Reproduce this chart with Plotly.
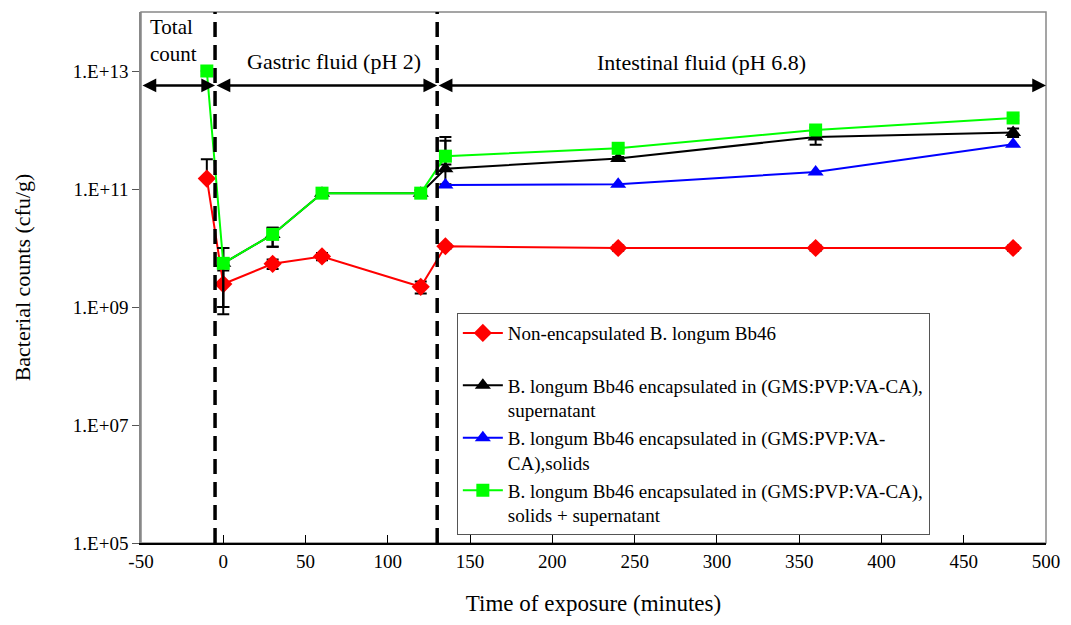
import plotly.graph_objects as go

# Sampling times (minutes) for each series
time_red = [-10, 0, 30, 60, 120, 135, 240, 360, 480]
time_black = [0, 30, 60, 120, 135, 240, 360, 480]
time_blue = [135, 240, 360, 480]
time_green = [-10, 0, 30, 60, 120, 135, 240, 360, 480]

# Bacterial counts (cfu/g)
red = [1.5e11, 2.45e9, 5.4e9, 7.2e9, 2.2e9, 1.07e10, 1.0e10, 1.0e10, 1.0e10]
black = [5.5e9, 1.7e10, 8.5e10, 8.5e10, 2.2e11, 3.3e11, 7.6e11, 9.1e11]
blue = [1.17e11, 1.2e11, 1.95e11, 5.75e11]
green = [1.0e13, 5.5e9, 1.7e10, 8.5e10, 8.5e10, 3.6e11, 4.9e11, 1.0e12, 1.6e12]

# Error bars (upper / lower)
red_err_up = [1.7e11, 1.7e9, 1.0e9, 1.0e9, 5e8, 1e9, 1e9, 1e9, 1e9]
red_err_dn = [0, 1.7e9, 1.0e9, 1.0e9, 5e8, 1e9, 1e9, 1e9, 1e9]
black_err_up = [4.5e9, 5e9, 1e10, 1e10, 4.4e11, 2e10, 2e11, 1.5e11]
black_err_dn = [4.5e9, 6.5e9, 1e10, 1e10, 1e11, 2e10, 2e11, 1.5e11]
green_err_up = [0, 4.5e9, 5e9, 1e10, 1e10, 4e11, 3e10, 1e11, 1.5e11]
green_err_dn = [0, 4.5e9, 6.5e9, 1e10, 1e10, 1e11, 3e10, 1e11, 1.5e11]

# Axis ticks
x_ticks = [-50, 0, 50, 100, 150, 200, 250, 300, 350, 400, 450, 500]
x_ticktext = ["-50", "0", "50", "100", "150", "200", "250", "300", "350",
              "400", "450", "500"]
y_tickvals = [1e5, 1e7, 1e9, 1e11, 1e13]
y_ticktext = ["1.E+05", "1.E+07", "1.E+09", "1.E+11", "1.E+13"]

# Phase boundaries (minutes) and the log10 level of the phase arrows
phase_bounds = [-50, -5, 130, 500]
arrow_log_level = 12.756

FONT = "Liberation Serif"


def err(up, dn):
    return dict(type="data", symmetric=False, array=up, arrayminus=dn,
                color="black", thickness=2, width=6)


fig = go.Figure()

fig.add_trace(go.Scatter(
    x=time_red, y=red, mode="lines+markers",
    name="Non-encapsulated B. longum Bb46<br> ",
    line=dict(color="#ff0000", width=2),
    marker=dict(symbol="diamond", size=14, color="#ff0000"),
    error_y=err(red_err_up, red_err_dn)))

fig.add_trace(go.Scatter(
    x=time_black, y=black, mode="lines+markers",
    name="B. longum Bb46 encapsulated in (GMS:PVP:VA-CA),<br>supernatant",
    line=dict(color="black", width=2),
    marker=dict(symbol="triangle-up", size=14, color="black"),
    error_y=err(black_err_up, black_err_dn)))

fig.add_trace(go.Scatter(
    x=time_blue, y=blue, mode="lines+markers",
    name="B. longum Bb46 encapsulated in (GMS:PVP:VA-<br>CA),solids",
    line=dict(color="#0000ff", width=2),
    marker=dict(symbol="triangle-up", size=14, color="#0000ff")))

fig.add_trace(go.Scatter(
    x=time_green, y=green, mode="lines+markers",
    name="B. longum Bb46 encapsulated in (GMS:PVP:VA-CA),<br>solids + supernatant",
    line=dict(color="#00ff00", width=2),
    marker=dict(symbol="square", size=13, color="#00ff00"),
    error_y=err(green_err_up, green_err_dn)))

shapes = []
# dashed phase separators
for xb in phase_bounds[1:3]:
    shapes.append(dict(type="line", xref="x", yref="paper", x0=xb, x1=xb,
                       y0=0, y1=1, line=dict(color="black", width=3.5,
                                             dash="15px,8px"), layer="above"))
# plot frame
shapes.append(dict(type="rect", xref="paper", yref="paper", x0=0, x1=1,
                   y0=0, y1=1, line=dict(color="#888888", width=1.5),
                   layer="below"))

annotations = []
# double-headed arrows spanning each phase
for a, b in zip(phase_bounds[:-1], phase_bounds[1:]):
    annotations.append(dict(
        x=b, y=arrow_log_level, ax=a, ay=arrow_log_level,
        xref="x", yref="y", axref="x", ayref="y", text="",
        showarrow=True, arrowhead=2, arrowside="end+start",
        arrowsize=1.1, arrowwidth=2.5, arrowcolor="black", standoff=0,
        startstandoff=0))

annotations += [
    dict(x=-30.5, y=0.998, xref="x", yref="paper", text="Total<br>count",
         showarrow=False, align="left",
         font=dict(family=FONT, size=21, color="black")),
    dict(x=67, y=0.934, xref="x", yref="paper", text="Gastric fluid (pH 2)",
         showarrow=False, font=dict(family=FONT, size=22, color="black")),
    dict(x=290.5, y=0.933, xref="x", yref="paper",
         text="Intestinal fluid (pH 6.8)",
         showarrow=False, font=dict(family=FONT, size=22, color="black")),
]

fig.update_layout(
    width=1071, height=625,
    margin=dict(l=141, r=25, t=12, b=82),
    paper_bgcolor="white", plot_bgcolor="white",
    font=dict(family=FONT, size=19, color="black"),
    shapes=shapes, annotations=annotations,
    showlegend=True,
    legend=dict(x=0.349, y=0.433, xanchor="left", yanchor="top",
                bgcolor="white", bordercolor="#555555", borderwidth=1,
                font=dict(family=FONT, size=19, color="black"),
                valign="top", tracegroupgap=0, itemwidth=40),
)

fig.update_xaxes(
    range=[-50, 500], tickvals=x_ticks, ticktext=x_ticktext,
    ticks="inside", ticklen=8,
    tickcolor="black", showline=True, linecolor="black", linewidth=1.5,
    showgrid=False, zeroline=False,
    title=dict(text="Time of exposure (minutes)", standoff=24,
               font=dict(family=FONT, size=23)),
    tickfont=dict(family=FONT, size=19))

fig.update_yaxes(
    type="log", range=[5, 14], tickvals=y_tickvals, ticktext=y_ticktext,
    ticks="outside", ticklen=7, tickcolor="#555555", showline=True,
    linecolor="#888888", linewidth=1.5, showgrid=False, zeroline=False,
    title=dict(text="Bacterial counts (cfu/g)", standoff=36,
               font=dict(family=FONT, size=22)),
    tickfont=dict(family=FONT, size=19))

fig.write_html("out.html")
